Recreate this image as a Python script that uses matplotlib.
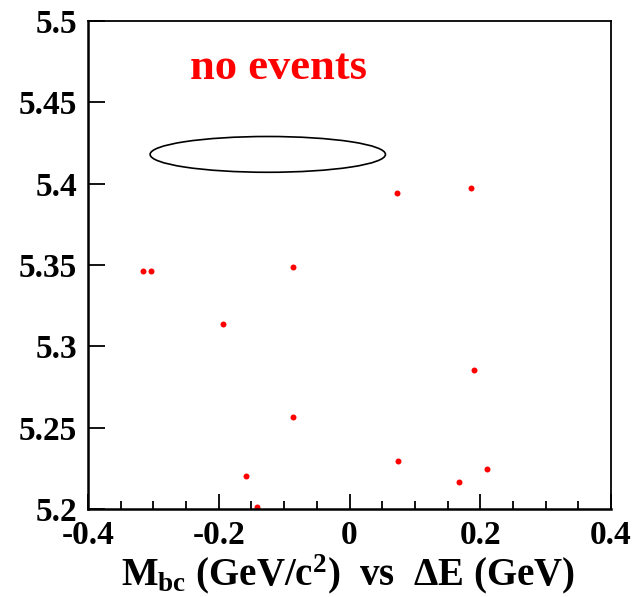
import matplotlib
matplotlib.use("Agg")
import matplotlib.pyplot as plt
from matplotlib.patches import Ellipse
from matplotlib.ticker import MultipleLocator, FixedLocator

plt.rcParams['font.family'] = ['Liberation Serif', 'DejaVu Serif']
plt.rcParams['font.weight'] = 'bold'
plt.rcParams['mathtext.fontset'] = 'custom'
plt.rcParams['mathtext.rm'] = 'Liberation Serif:bold'
plt.rcParams['mathtext.it'] = 'Liberation Serif:bold'
plt.rcParams['mathtext.bf'] = 'Liberation Serif:bold'

# Data (Delta E [GeV], M_bc [GeV/c^2])
delta_e = [-0.316, -0.304, -0.086, 0.072, 0.186, -0.194, -0.087,
           -0.158, -0.142, 0.190, 0.074, 0.167, 0.211]
m_bc = [5.3465, 5.3465, 5.349, 5.3944, 5.3971, 5.3139, 5.2564,
        5.2203, 5.2014, 5.2856, 5.2295, 5.2168, 5.2244]

# Signal region ellipse
ell_center = (-0.125, 5.418)
ell_width = 0.36
ell_height = 0.022

x_ticks = [-0.4, -0.2, 0, 0.2, 0.4]
x_ticklabels = ['-0.4', '-0.2', '0', '0.2', '0.4']
y_ticks = [5.2, 5.25, 5.3, 5.35, 5.4, 5.45, 5.5]
y_ticklabels = ['5.2', '5.25', '5.3', '5.35', '5.4', '5.45', '5.5']

fig = plt.figure(figsize=(6.35, 5.97), dpi=100)
ax = fig.add_axes([88/635, 88/597, (611-88)/635, (509-21)/597])

ax.plot(delta_e, m_bc, 'o', color='red', markersize=4.3, markeredgewidth=0)
ax.add_patch(Ellipse(ell_center, ell_width, ell_height, fill=False,
                     edgecolor='black', lw=1.2))

ax.set_xlim(-0.4, 0.4)
ax.set_ylim(5.2, 5.5)
ax.xaxis.set_major_locator(FixedLocator(x_ticks))
ax.set_xticklabels(x_ticklabels)
ax.xaxis.set_minor_locator(MultipleLocator(0.05))
ax.yaxis.set_major_locator(FixedLocator(y_ticks))
ax.set_yticklabels(y_ticklabels)

ax.tick_params(axis='x', which='major', direction='in', length=11, width=1.3,
               labelsize=24, pad=8)
ax.tick_params(axis='x', which='minor', direction='in', length=6, width=1.3)
ax.tick_params(axis='y', which='major', direction='in', length=12.5, width=1.3,
               labelsize=24, pad=8)
for lab in ax.get_xticklabels() + ax.get_yticklabels():
    lab.set_fontweight('bold')

for s in ['left', 'bottom']:
    ax.spines[s].set_linewidth(1.8)
for s in ['top', 'right']:
    ax.spines[s].set_linewidth(1.3)

fig.text(278/635, 1 - 68/597, 'no events', color='red', fontsize=32,
         fontweight='bold', ha='center', va='center')

fig.text(348/635, 1 - 585/597,
         r'$M_{bc}$ (GeV/c$^{2}$)  vs  $\Delta$E (GeV)',
         fontsize=28, fontweight='bold', ha='center', va='baseline')

fig.savefig('out.png', dpi=100)
